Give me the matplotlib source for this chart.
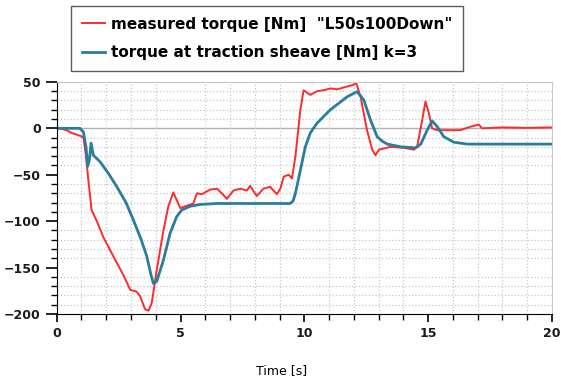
import numpy as np
import matplotlib
matplotlib.use("Agg")
import matplotlib.pyplot as plt
from matplotlib.ticker import MultipleLocator

# measured torque
t_meas = [0.0, 0.4, 0.6, 0.94, 1.08, 1.185, 1.28, 1.41, 1.62, 1.88, 2.29, 2.69, 2.97, 3.23,
          3.37, 3.57, 3.71, 3.84, 4.04, 4.31, 4.51, 4.71, 4.99, 5.19, 5.52, 5.66, 5.86, 6.06,
          6.2, 6.47, 6.74, 6.87, 7.14, 7.41, 7.68, 7.81, 8.08, 8.35, 8.62, 8.89, 9.03, 9.17,
          9.37, 9.5, 9.64, 9.84, 9.97, 10.24, 10.51, 10.78, 11.05, 11.32, 11.59, 11.93, 12.1,
          12.27, 12.53, 12.74, 12.87, 13.01, 13.48, 14.02, 14.43, 14.56, 14.76, 14.89, 15.03,
          15.16, 15.36, 15.77, 16.3, 16.7, 17.04, 17.18, 18.0, 19.0, 20.0]
y_meas = [1, -2, -5, -8, -10, -30, -56, -88, -100, -117, -138, -158, -174, -176,
          -181, -195, -196.5, -188, -153, -110, -84, -69, -86, -84, -81, -70, -71, -68,
          -66, -65, -72, -76, -67, -65, -67, -62, -73, -65, -63, -71, -65, -52,
          -50, -54, -30, 20, 41, 36, 40, 41, 43, 42, 44, 46.5, 48.6,
          34, -2, -23, -29, -23, -20, -21, -23, -19, 9, 29, 16,
          0, -2, -2, -2, 1.7, 4, 0, 1, 0.5, 1]

# torque at traction sheave, k=3
t_sim = [0.0, 0.94, 1.08, 1.185, 1.25, 1.32, 1.39, 1.48, 1.75, 2.1, 2.43, 2.8, 3.1, 3.4, 3.64,
         3.8, 3.9, 4.04, 4.31, 4.58, 4.85, 5.05, 5.39, 5.79, 6.47, 9.43, 9.55, 9.64, 9.84,
         10.04, 10.24, 10.51, 11.05, 11.73, 12.13, 12.4, 12.67, 12.94, 13.15, 13.35, 13.9,
         14.5, 14.7, 14.96, 15.16, 15.36, 15.63, 16.04, 16.58, 20.0]
y_sim = [0, 0, -4, -20, -41, -34, -16, -29, -36, -49, -63, -80, -99, -119, -138,
         -157, -167, -165, -142, -113, -95, -88, -84, -82, -81, -81, -78, -70, -45,
         -20, -5, 5.5, 20, 34, 39.5, 30.6, 9, -9, -14, -17, -20,
         -21, -17, -2, 8, 2, -9, -15, -17, -17]

xticks = [0, 5, 10, 15, 20]
yticks = [50, 0, -50, -100, -150, -200]

fig = plt.figure(figsize=(5.61, 3.81), dpi=100)
ax = fig.add_axes([0.101, 0.176, 0.883, 0.609])

ax.plot(t_meas, y_meas, color="#ff2a2a", lw=1.4, label='measured torque [Nm]  "L50s100Down"')
ax.plot(t_sim, y_sim, color="#2a7d9c", lw=2.0, label="torque at traction sheave [Nm] k=3")
ax.axhline(0, color="#b0b0b0", lw=1.0, zorder=0)

ax.set_xlim(0, 20)
ax.set_ylim(-200, 50)
ax.set_xticks(xticks)
ax.set_yticks(yticks)
ax.xaxis.set_minor_locator(MultipleLocator(1))
ax.yaxis.set_minor_locator(MultipleLocator(10))
ax.grid(which="minor", color="#c8c8c8", ls=":", lw=0.9)
ax.set_axisbelow(True)

for s in ["top", "right"]:
    ax.spines[s].set_color("#c8c8c8")
for s in ["left", "bottom"]:
    ax.spines[s].set_color("black")
ax.tick_params(which="major", direction="out", length=8, width=1.2, colors="black")
ax.tick_params(which="minor", direction="out", length=4, width=1.0, colors="black")
ax.tick_params(axis="x", which="major", length=6)
for lab in ax.get_xticklabels() + ax.get_yticklabels():
    lab.set_fontweight("bold")
    lab.set_fontsize(9)
    lab.set_color("#1a1a1a")

ax.set_xlabel("Time [s]", fontsize=9)
ax.xaxis.set_label_coords(0.455, -0.215)

leg = fig.legend(loc="upper left", bbox_to_anchor=(71 / 561, 1 - 6 / 381),
                 prop={"weight": "bold", "size": 11}, frameon=True, fancybox=False,
                 handlelength=1.5, borderpad=0.7, labelspacing=0.9, handletextpad=0.4,
                 borderaxespad=0)
leg.get_frame().set_edgecolor("#333333")
leg.get_frame().set_linewidth(1.0)

fig.savefig("out.png", dpi=100)
